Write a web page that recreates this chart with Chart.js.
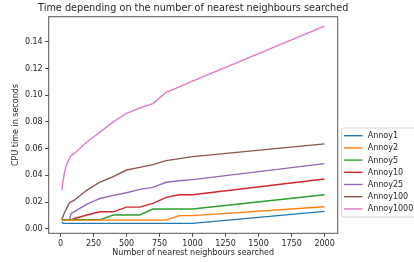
<!DOCTYPE html>
<html>
<head>
<meta charset="utf-8">
<script src="https://cdn.jsdelivr.net/npm/chart.js@4"></script>
<style>
  html, body { margin: 0; padding: 0; background: #fff; }
  #wrap { width: 414px; height: 262px; }
</style>
</head>
<body>
<div id="wrap"><canvas id="chart"></canvas></div>
<script>
// number of nearest neighbours searched
const neighbours = [10, 20, 30, 40, 50, 60, 70, 80, 90, 100, 200, 300, 400, 500, 600, 700, 800, 900, 1000, 2000];

// CPU time in seconds, one array per index
const annoy1 = [0.005, 0.004, 0.004, 0.004, 0.004, 0.004, 0.004, 0.004, 0.004, 0.004, 0.004, 0.004, 0.004, 0.004, 0.004, 0.004, 0.004, 0.004, 0.004, 0.013];
const annoy2 = [0.0065, 0.0065, 0.0065, 0.0065, 0.0065, 0.0065, 0.0065, 0.0065, 0.0065, 0.0065, 0.0065, 0.0065, 0.0065, 0.0065, 0.0065, 0.0065, 0.0065, 0.0098, 0.0098, 0.0165];
const annoy5 = [0.0068, 0.0068, 0.0068, 0.0068, 0.0068, 0.0068, 0.0068, 0.0068, 0.0068, 0.0068, 0.0068, 0.0068, 0.0103, 0.0103, 0.0103, 0.0148, 0.0148, 0.0148, 0.0148, 0.0255];
const annoy10 = [0.0068, 0.0068, 0.0068, 0.0068, 0.0068, 0.0068, 0.0068, 0.0068, 0.0068, 0.0075, 0.0103, 0.0127, 0.0127, 0.0162, 0.0162, 0.019, 0.0235, 0.0255, 0.0255, 0.0373];
const annoy25 = [0.0068, 0.0068, 0.0068, 0.0068, 0.0068, 0.0068, 0.0068, 0.0115, 0.012, 0.0125, 0.0185, 0.0227, 0.025, 0.027, 0.0295, 0.031, 0.0348, 0.036, 0.0368, 0.0488];
const annoy100 = [0.007, 0.0095, 0.012, 0.014, 0.016, 0.018, 0.0195, 0.0203, 0.0207, 0.021, 0.029, 0.035, 0.039, 0.044, 0.046, 0.048, 0.051, 0.0525, 0.054, 0.0636];
const annoy1000 = [0.029, 0.036, 0.042, 0.046, 0.049, 0.051, 0.053, 0.0545, 0.0555, 0.056, 0.065, 0.0725, 0.08, 0.0865, 0.0905, 0.0937, 0.1022, 0.1063, 0.1105, 0.1518];

const seriesNames = ["Annoy1", "Annoy2", "Annoy5", "Annoy10", "Annoy25", "Annoy100", "Annoy1000"];
const seriesValues = [annoy1, annoy2, annoy5, annoy10, annoy25, annoy100, annoy1000];
const colors = ["#1f77b4", "#ff7f0e", "#2ca02c", "#d62728", "#9467bd", "#8c564b", "#e377c2"];

const xTicks = [0, 250, 500, 750, 1000, 1250, 1500, 1750, 2000];
const yTicks = [0, 0.02, 0.04, 0.06, 0.08, 0.1, 0.12, 0.14];

const chartTitle = "Time depending on the number of nearest neighbours searched";

const FONT = "'DejaVu Sans', sans-serif";
const TEXT = "#262626";
const SMALL = 8;

function toPoints(values) {
  return values.map((v, i) => ({ x: neighbours[i], y: v }));
}

// box round the plot area, like matplotlib spines
const frame = {
  id: "frame",
  afterDatasetsDraw(chart) {
    const { ctx, chartArea: a } = chart;
    ctx.save();
    ctx.strokeStyle = "#555";
    ctx.lineWidth = 1;
    ctx.strokeRect(a.left, a.top, a.right - a.left, a.bottom - a.top);
    ctx.restore();
  },
};

// title centred over the axes; it is wider than the plot so the built-in one would squash it
const axesTitle = {
  id: "axesTitle",
  afterDraw(chart) {
    const { ctx, chartArea: a } = chart;
    ctx.save();
    ctx.font = "9.7px " + FONT;
    ctx.fillStyle = TEXT;
    ctx.textAlign = "center";
    ctx.textBaseline = "middle";
    ctx.fillText(chartTitle, (a.left + a.right) / 2, 8.3);
    ctx.restore();
  },
};

// legend outside the axes on the right, partly cut off by the canvas edge
const sideLegend = {
  id: "sideLegend",
  afterDraw(chart) {
    const ctx = chart.ctx;
    const x0 = 341.5, y0 = 128, w = 84, h = 89;
    ctx.save();
    ctx.beginPath();
    ctx.roundRect(x0, y0, w, h, 2.5);
    ctx.fillStyle = "rgba(255,255,255,0.8)";
    ctx.fill();
    ctx.strokeStyle = "#d6d6d6";
    ctx.lineWidth = 1;
    ctx.stroke();
    ctx.font = SMALL + "px " + FONT;
    ctx.textBaseline = "middle";
    chart.data.datasets.forEach((ds, i) => {
      const y = y0 + 7.7 + i * 12.2;
      ctx.strokeStyle = ds.borderColor;
      ctx.lineWidth = 1.4;
      ctx.beginPath();
      ctx.moveTo(344, y);
      ctx.lineTo(362.5, y);
      ctx.stroke();
      ctx.fillStyle = TEXT;
      ctx.fillText(ds.label, 367.7, y + 0.5);
    });
    ctx.restore();
  },
};

new Chart(document.getElementById("chart"), {
  type: "line",
  data: {
    datasets: seriesNames.map((name, i) => ({
      label: name,
      data: toPoints(seriesValues[i]),
      borderColor: colors[i],
      backgroundColor: colors[i],
      borderWidth: 1.4,
      pointRadius: 0,
      tension: 0,
      fill: false,
    })),
  },
  options: {
    responsive: true,
    maintainAspectRatio: false,
    animation: false,
    events: [],
    layout: { padding: { left: 0, right: 76.3, top: 16.7, bottom: 0 } },
    plugins: {
      legend: { display: false },
      tooltip: { enabled: false },
      title: { display: false },
    },
    scales: {
      x: {
        type: "linear",
        min: -89.5,
        max: 2099.5,
        afterBuildTicks: (scale) => { scale.ticks = xTicks.map((v) => ({ value: v })); },
        afterFit: (scale) => { scale.height = 28.7; },
        grid: { drawOnChartArea: false, drawTicks: true, tickLength: 3.5, color: "#444" },
        border: { display: false },
        ticks: {
          color: TEXT,
          font: { family: FONT, size: SMALL },
          padding: 2,
          maxRotation: 0,
          autoSkip: false,
          callback: (v) => String(v),
        },
        title: {
          display: true,
          text: "Number of nearest neighbours searched",
          color: TEXT,
          font: { family: FONT, size: SMALL, lineHeight: 1.2 },
          padding: { top: 0, bottom: 3.9 },
        },
      },
      y: {
        min: -0.0034,
        max: 0.1588,
        afterBuildTicks: (scale) => { scale.ticks = yTicks.map((v) => ({ value: v })); },
        afterFit: (scale) => { scale.width = 48.7; },
        grid: { drawOnChartArea: false, drawTicks: true, tickLength: 3.5, color: "#444" },
        border: { display: false },
        ticks: {
          color: TEXT,
          font: { family: FONT, size: SMALL },
          padding: 2.5,
          autoSkip: false,
          callback: (v) => v.toFixed(2),
        },
        title: {
          display: true,
          text: "CPU time in seconds",
          color: TEXT,
          font: { family: FONT, size: SMALL, lineHeight: 1.2 },
          padding: { top: 10.7, bottom: 0 },
        },
      },
    },
  },
  plugins: [frame, axesTitle, sideLegend],
});
</script>
</body>
</html>
